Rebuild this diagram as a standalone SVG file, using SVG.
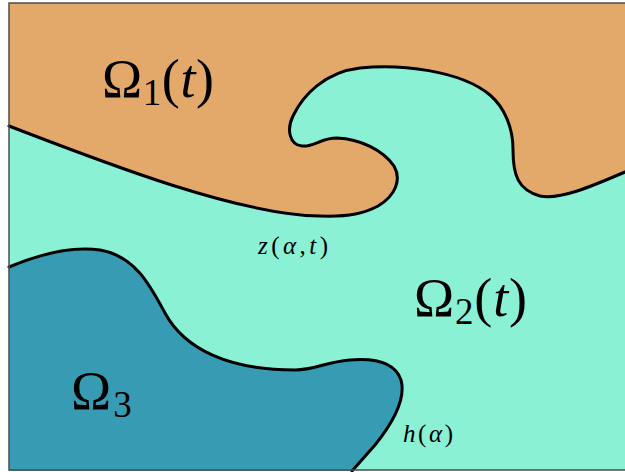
<svg xmlns="http://www.w3.org/2000/svg" width="625" height="472" viewBox="0 0 625 472">
<style>
.region{stroke:none}
.iface{fill:none;stroke:#000;stroke-width:3;stroke-linejoin:round;stroke-linecap:round}
.big{font-family:"Liberation Serif","Times New Roman",serif;font-size:54px;fill:#000}
.small{font-family:"Liberation Serif","Times New Roman",serif;font-size:25px;fill:#000}
.it{font-style:italic}
</style>
<rect width="625" height="472" fill="#ffffff"/>
<g id="omega2">
<rect class="region" x="9" y="3" width="616" height="467" fill="#8AF1D4"/>
</g>
<g id="omega1">
<path class="region" fill="#E3A96A" d="M 9,126 C 110,165 240,215 320,216 C 350,217 365,213 378,206 C 395,196 402,180 394,166 C 383,150 360,139 337,138 C 320,138 315,147 302,146 C 290,145 286,130 293,116 C 303,95 325,72 360,68 C 400,64 460,70 490,95 C 505,108 513,128 513,150 C 513,175 518,190 540,196 C 560,200 590,187 625,172 L 625,3 L 9,3 Z"/>
</g>
<g id="omega3">
<path class="region" fill="#389BB4" d="M 9,267 C 40,254 70,246 100,250 C 135,256 150,285 165,313 C 185,350 230,370 295,370 C 315,370 325,362 350,360 C 375,358 395,362 401,380 C 406,398 395,420 375,445 L 352,471 L 9,471 Z"/>
</g>
<g id="connectors">
<path class="iface" d="M 9,126 C 110,165 240,215 320,216 C 350,217 365,213 378,206 C 395,196 402,180 394,166 C 383,150 360,139 337,138 C 320,138 315,147 302,146 C 290,145 286,130 293,116 C 303,95 325,72 360,68 C 400,64 460,70 490,95 C 505,108 513,128 513,150 C 513,175 518,190 540,196 C 560,200 590,187 625,172"/>
<path class="iface" d="M 9,267 C 40,254 70,246 100,250 C 135,256 150,285 165,313 C 185,350 230,370 295,370 C 315,370 325,362 350,360 C 375,358 395,362 401,380 C 406,398 395,420 375,445 L 352,471"/>
</g>
<rect x="9" y="3" width="620" height="467" fill="none" stroke="#4d4d4d" stroke-width="1.5"/>
<g id="labels">
<text class="big" x="102" y="97" textLength="112" lengthAdjust="spacing">Ω<tspan font-size="37" dy="8">1</tspan><tspan dy="-8">(</tspan><tspan class="it">t</tspan>)</text>
<text class="big" x="414" y="316" textLength="113" lengthAdjust="spacing">Ω<tspan font-size="37" dy="8">2</tspan><tspan dy="-8">(</tspan><tspan class="it">t</tspan>)</text>
<text class="big" x="71" y="409">Ω<tspan font-size="37" dx="2" dy="8">3</tspan></text>
<text class="small" x="258" y="254" textLength="70" lengthAdjust="spacing"><tspan class="it">z</tspan>(<tspan class="it">α</tspan>,<tspan class="it">t</tspan>)</text>
<text class="small" x="403" y="442" textLength="50" lengthAdjust="spacing"><tspan class="it">h</tspan>(<tspan class="it">α</tspan>)</text>
</g>
</svg>
